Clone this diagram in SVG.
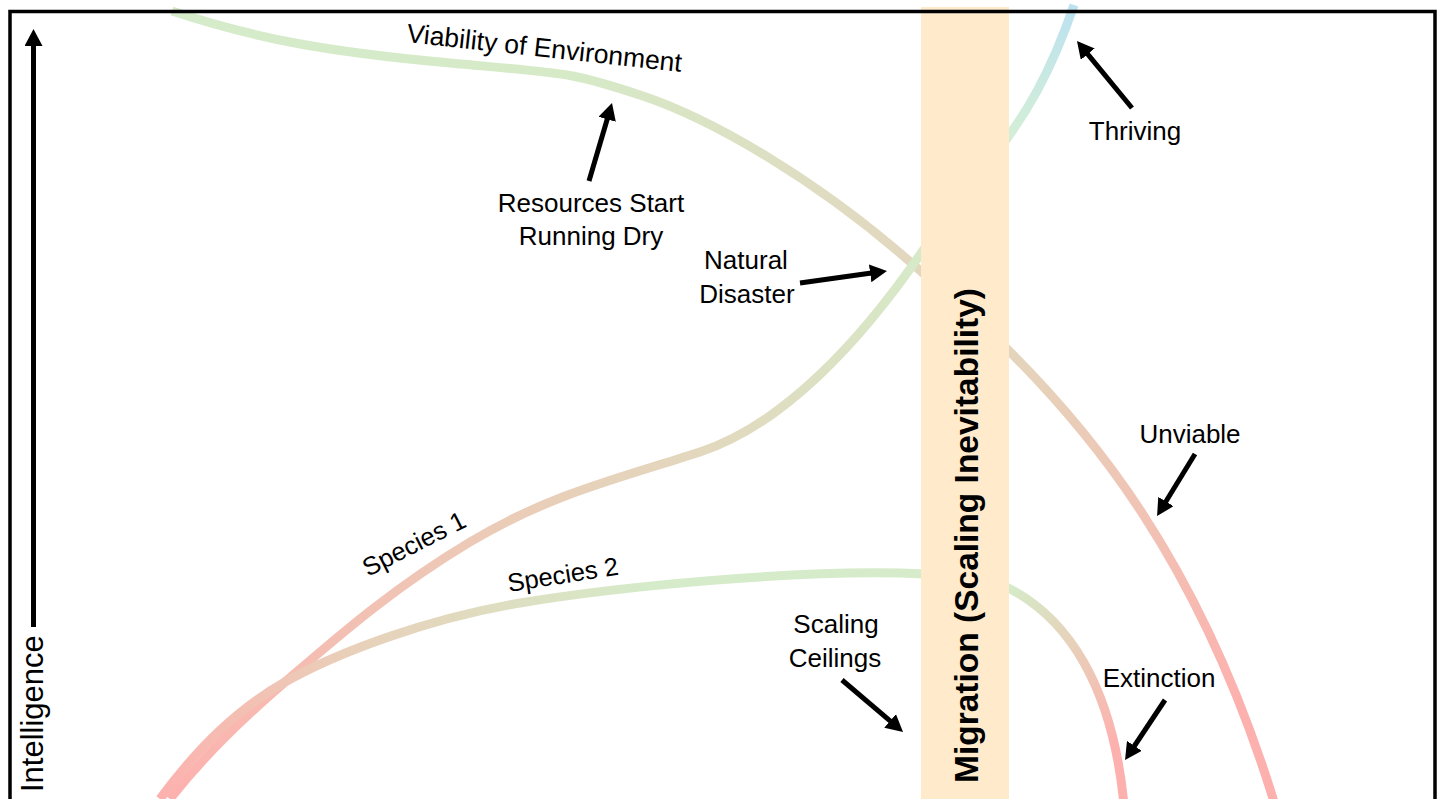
<svg xmlns="http://www.w3.org/2000/svg" width="1440" height="799" viewBox="0 0 1440 799">
  <defs>
    <style>
      .curve { fill: none; stroke-width: 9; stroke-linecap: butt; }
      .callout { stroke: #000; stroke-width: 5; fill: none; marker-end: url(#ah); }
      .lbl { font-family: "Liberation Sans", Arial, sans-serif; font-size: 26px; fill: #000; }
      .mid { text-anchor: middle; }
      .bar-title { font-family: "Liberation Sans", Arial, sans-serif; font-size: 33.5px; font-weight: bold; fill: #000; }
    </style>
    <marker id="ah" viewBox="0 0 17 18" refX="5" refY="9" markerWidth="17" markerHeight="18" markerUnits="userSpaceOnUse" orient="auto">
      <path d="M0,0 L17,9 L0,18 z" fill="#000"/>
    </marker>
    <linearGradient id="gViab" gradientUnits="userSpaceOnUse" x1="172" y1="11" x2="925" y2="275">
      <stop offset="0" stop-color="#D5EBC9"/>
      <stop offset="0.5" stop-color="#D6EAC8"/>
      <stop offset="1" stop-color="#E3D6BE"/>
    </linearGradient>
    <linearGradient id="gSp1" gradientUnits="userSpaceOnUse" x1="168" y1="799" x2="930" y2="240">
      <stop offset="0" stop-color="#FDB1AE"/>
      <stop offset="0.5" stop-color="#E9CEB8"/>
      <stop offset="1" stop-color="#D5EBC9"/>
    </linearGradient>
    <linearGradient id="gSp2" gradientUnits="userSpaceOnUse" x1="158" y1="799" x2="650" y2="586">
      <stop offset="0" stop-color="#FDB1AE"/>
      <stop offset="0.45" stop-color="#E8D0B9"/>
      <stop offset="1" stop-color="#D5EBC9"/>
    </linearGradient>
    <linearGradient id="gSp2R" gradientUnits="userSpaceOnUse" x1="1010" y1="587" x2="1120" y2="740">
      <stop offset="0" stop-color="#D5EBC9"/>
      <stop offset="0.45" stop-color="#E8D0B9"/>
      <stop offset="1" stop-color="#FDB1AE"/>
    </linearGradient>
    <linearGradient id="gUnv" gradientUnits="userSpaceOnUse" x1="1009" y1="350" x2="1240" y2="700">
      <stop offset="0" stop-color="#E4D5BC"/>
      <stop offset="1" stop-color="#FDB1AE"/>
    </linearGradient>
    <linearGradient id="gThr" gradientUnits="userSpaceOnUse" x1="1009" y1="135" x2="1074" y2="7">
      <stop offset="0" stop-color="#D4EED6"/>
      <stop offset="1" stop-color="#BCE2F0"/>
    </linearGradient>
  </defs>

  <rect x="0" y="0" width="1440" height="799" fill="#FFFFFF"/>

  <!-- trajectories -->
  <g id="connectors">
    <path id="viability" class="curve" stroke="url(#gViab)" d="M172,11 C260,40 330,52 450,63 S570,72 640,95 S820,180 925,275"/>
    <path id="species1" class="curve" stroke="url(#gSp1)" d="M170,799 C198,763 235,725 285,682 S390,590 470,542 C550,494 620,478 700,452 S860,345 930,240"/>
    <path id="species2" class="curve" stroke="url(#gSp2)" d="M160,799 C190,758 232,712 285,682 S430,618 520,603 S800,568 925,574"/>
    <path id="extinction-path" class="curve" stroke="url(#gSp2R)" d="M1000,584 C1070,615 1113,690 1124,805"/>
    <path id="unviable-path" class="curve" stroke="url(#gUnv)" d="M1000,342 C1090,430 1200,560 1275,805"/>
    <path id="thriving-path" class="curve" stroke="url(#gThr)" d="M1000,148 C1025,115 1050,75 1074,5"/>
  </g>

  <!-- migration band -->
  <g id="migration">
    <rect x="921" y="7" width="88" height="800" fill="#FFEBCC"/>
    <text class="bar-title" transform="translate(978,783) rotate(-90)" textLength="495" lengthAdjust="spacingAndGlyphs">Migration (Scaling Inevitability)</text>
  </g>

  <!-- frame -->
  <rect x="10" y="11.5" width="1425" height="900" fill="none" stroke="#000" stroke-width="3.5"/>

  <!-- intelligence axis -->
  <g id="axis">
    <line x1="33.5" y1="627" x2="33.5" y2="41" stroke="#000" stroke-width="5" marker-end="url(#ah)"/>
    <text class="lbl" style="font-size:31px" transform="translate(43,792) rotate(-90)">Intelligence</text>
  </g>

  <!-- curve labels -->
  <g id="label-viability">
    <text class="lbl" style="font-size:26.5px" transform="translate(406,42) rotate(6.2)">Viability of Environment</text>
  </g>
  <g id="label-species1">
    <text class="lbl" style="font-size:25.5px" transform="translate(368,577) rotate(-27)">Species 1</text>
  </g>
  <g id="label-species2">
    <text class="lbl" style="font-size:25.5px" transform="translate(509,592) rotate(-9)">Species 2</text>
  </g>

  <!-- callouts -->
  <g id="resources">
    <line class="callout" x1="589" y1="181" x2="608.6" y2="114.5"/>
    <text class="lbl mid" x="591" y="212">Resources Start</text>
    <text class="lbl mid" x="591" y="245">Running Dry</text>
  </g>
  <g id="disaster">
    <line class="callout" x1="800" y1="283" x2="875.1" y2="272.6"/>
    <text class="lbl mid" x="746" y="269">Natural</text>
    <text class="lbl mid" x="747" y="303">Disaster</text>
  </g>
  <g id="thriving">
    <line class="callout" x1="1132" y1="108" x2="1084.6" y2="50.3"/>
    <text class="lbl mid" x="1135" y="140">Thriving</text>
  </g>
  <g id="unviable">
    <line class="callout" x1="1195" y1="454" x2="1163.3" y2="505.8"/>
    <text class="lbl mid" x="1190" y="443">Unviable</text>
  </g>
  <g id="extinction">
    <line class="callout" x1="1165" y1="700" x2="1131.7" y2="750"/>
    <text class="lbl mid" x="1159" y="687">Extinction</text>
  </g>
  <g id="ceilings">
    <line class="callout" x1="842" y1="680" x2="893.9" y2="724.2"/>
    <text class="lbl mid" x="836" y="633">Scaling</text>
    <text class="lbl mid" x="835" y="667">Ceilings</text>
  </g>
</svg>
